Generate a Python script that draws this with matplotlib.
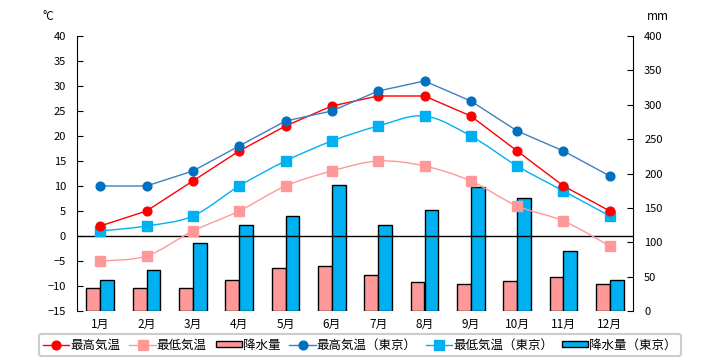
import matplotlib
matplotlib.use("Agg")
import matplotlib.pyplot as plt
from matplotlib.path import Path
from matplotlib.patches import PathPatch, Patch
from matplotlib.lines import Line2D
import numpy as np

plt.rcParams['font.family'] = ['Noto Sans CJK JP', 'DejaVu Sans']

months = ['1月', '2月', '3月', '4月', '5月', '6月', '7月', '8月', '9月', '10月', '11月', '12月']
tmax = [2, 5, 11, 17, 22, 26, 28, 28, 24, 17, 10, 5]
tmin = [-5, -4, 1, 5, 10, 13, 15, 14, 11, 6, 3, -2]
prec = [34, 33, 34, 45, 63, 66, 53, 42, 40, 43, 50, 40]
tk_tmax = [10, 10, 13, 18, 23, 25, 29, 31, 27, 21, 17, 12]
tk_tmin = [1, 2, 4, 10, 15, 19, 22, 24, 20, 14, 9, 4]
tk_prec = [45, 59, 99, 125, 138, 184, 125, 147, 180, 164, 88, 45]

labels = ['最高気温', '最低気温', '降水量', '最高気温（東京）', '最低気温（東京）', '降水量（東京）']

RED = '#FF0000'
PINK = '#FF9999'
BLUE = '#0070C0'
BLUE_LINE = '#3F7FC0'
CYAN = '#00B0F0'
BG = '#FFFFCC'

fig = plt.figure(figsize=(7.2, 3.6), dpi=100)
ax = fig.add_axes([77/720, 1-311/360, (633-77)/720, (311-36)/360])
ax2 = ax.twinx()
ax.set_zorder(ax2.get_zorder() + 1)
ax.patch.set_visible(False)
ax2.patch.set_facecolor(BG)

x = np.arange(len(months))
w = 0.3
ax2.bar(x - w/2, prec, width=w, color=PINK, edgecolor='black', linewidth=1)
ax2.bar(x + w/2, tk_prec, width=w, color=CYAN, edgecolor='black', linewidth=1)
ax2.set_ylim(0, 400)
ax2.set_yticks(range(0, 401, 50))

def smooth_path(xs, ys):
    pts = np.column_stack([xs, ys]).astype(float)
    n = len(pts)
    verts = [pts[0]]
    codes = [Path.MOVETO]
    for i in range(n - 1):
        p0 = pts[i - 1] if i > 0 else pts[i]
        p1 = pts[i]
        p2 = pts[i + 1]
        p3 = pts[i + 2] if i + 2 < n else pts[i + 1]
        c1 = p1 + (p2 - p0) / 6.0
        c2 = p2 - (p3 - p1) / 6.0
        verts += [c1, c2, p2]
        codes += [Path.CURVE4] * 3
    return Path(verts, codes)

ax.axhline(0, color='black', linewidth=1, zorder=1)

ax.add_patch(PathPatch(smooth_path(x, tmin), fill=False, edgecolor=PINK, linewidth=1, zorder=2))
ax.plot(x, tmin, linestyle='none', marker='s', markersize=6.5, color=PINK, zorder=3)
ax.add_patch(PathPatch(smooth_path(x, tk_tmin), fill=False, edgecolor=CYAN, linewidth=1, zorder=2))
ax.plot(x, tk_tmin, linestyle='none', marker='s', markersize=6.5, color=CYAN, zorder=3)
ax.plot(x, tmax, color=RED, linewidth=1, marker='o', markersize=6.3, zorder=4)
ax.plot(x, tk_tmax, color=BLUE_LINE, linewidth=1, marker='o', markersize=6.3,
        markerfacecolor=BLUE, markeredgecolor=BLUE, zorder=4)

ax.set_ylim(-15, 40)
ax.set_yticks(range(-15, 41, 5))
ax.set_xlim(-0.5, 11.5)
ax.set_xticks(x)
ax.set_xticklabels(months)

for a in (ax, ax2):
    a.spines['top'].set_visible(False)
    a.spines['bottom'].set_visible(False)
ax.spines['right'].set_visible(False)
ax2.spines['left'].set_visible(False)
ax.tick_params(axis='y', direction='in', length=4, labelsize=8, pad=8)
ax2.tick_params(axis='y', direction='in', length=4, labelsize=8, pad=8)
ax.tick_params(axis='x', length=0, labelsize=8.5, pad=5)

fig.text(48/720, 1-17/360, '°C', fontsize=8.5, ha='center', va='center')
fig.text(658/720, 1-17/360, 'mm', fontsize=8.5, ha='center', va='center')

handles = [
    Line2D([], [], color=RED, marker='o', markersize=6.3, linewidth=1),
    Line2D([], [], color=PINK, marker='s', markersize=6.5, linewidth=1),
    Patch(facecolor=PINK, edgecolor='black', linewidth=1),
    Line2D([], [], color=BLUE_LINE, marker='o', markersize=6.3, markerfacecolor=BLUE,
           markeredgecolor=BLUE, linewidth=1),
    Line2D([], [], color=CYAN, marker='s', markersize=6.5, linewidth=1),
    Patch(facecolor=CYAN, edgecolor='black', linewidth=1),
]
leg = fig.legend(handles, labels, loc='center', bbox_to_anchor=(360/720, 1-345/360),
                 ncol=6, frameon=True, fontsize=9, handlelength=2.1, handleheight=0.45,
                 columnspacing=0.7, handletextpad=0.1, borderpad=0.35,
                 fancybox=True, edgecolor='#C0C0C0')
leg.get_frame().set_linewidth(1.5)

fig.savefig('out.png', dpi=100)
